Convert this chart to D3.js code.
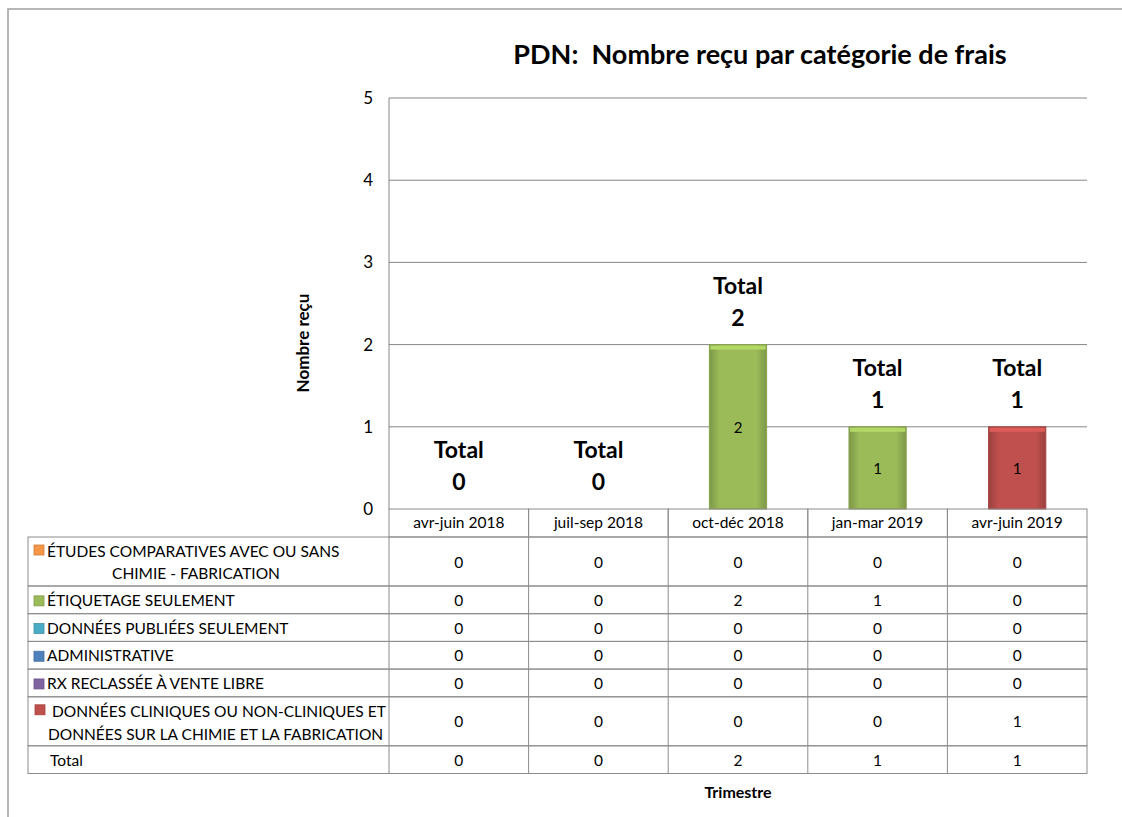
<!DOCTYPE html>
<html>
<head>
<meta charset="utf-8">
<script src="https://cdn.jsdelivr.net/npm/d3@7"></script>
<style>
  body { margin: 0; background: #fff; }
  svg { font-family: Lato, "Open Sans", sans-serif; }
</style>
</head>
<body>
<svg width="1122" height="817"></svg>
<script>
// data
const quarters = ["avr-juin 2018", "juil-sep 2018", "oct-déc 2018", "jan-mar 2019", "avr-juin 2019"];
const categories = [
    ["ÉTUDES COMPARATIVES AVEC OU SANS", "CHIMIE - FABRICATION"],
    ["ÉTIQUETAGE SEULEMENT"],
    ["DONNÉES PUBLIÉES SEULEMENT"],
    ["ADMINISTRATIVE"],
    ["RX RECLASSÉE À VENTE LIBRE"],
    ["DONNÉES CLINIQUES OU NON-CLINIQUES ET", "DONNÉES SUR LA CHIMIE ET LA FABRICATION"]
];
const colors = ["#F79646", "#9BBB59", "#4BACC6", "#4F81BD", "#8064A2", "#C0504D"];
const etudes = [0, 0, 0, 0, 0];
const etiquetage = [0, 0, 2, 1, 0];
const publiees = [0, 0, 0, 0, 0];
const administrative = [0, 0, 0, 0, 0];
const rxReclassee = [0, 0, 0, 0, 0];
const cliniques = [0, 0, 0, 0, 1];
const yTicks = [0, 1, 2, 3, 4, 5];

const series = [etudes, etiquetage, publiees, administrative, rxReclassee, cliniques];
const totals = quarters.map((q, i) => d3.sum(series, s => s[i]));

const svg = d3.select("svg");
const plot = { left: 389, right: 1087, top: 98, bottom: 509 };
const fs = 15.5; // table text size

// outer frame
svg.append("path")
    .attr("d", "M8,830 L8,9 L1130,9")
    .attr("fill", "none").attr("stroke", "#a0a0a0").attr("stroke-width", 1.5);

// gradients for the bars
const defs = svg.append("defs");
colors.forEach((c, i) => {
    const g = defs.append("linearGradient").attr("id", "grad" + i)
        .attr("x1", "0%").attr("x2", "100%").attr("y1", "0%").attr("y2", "0%");
    const dark = d3.color(c).darker(0.6);
    g.append("stop").attr("offset", "0%").attr("stop-color", dark);
    g.append("stop").attr("offset", "18%").attr("stop-color", c);
    g.append("stop").attr("offset", "82%").attr("stop-color", c);
    g.append("stop").attr("offset", "100%").attr("stop-color", dark);
});

const x = d3.scaleBand().domain(quarters).range([plot.left, plot.right]).paddingInner(0).paddingOuter(0);
const y = d3.scaleLinear().domain([0, 5]).range([plot.bottom, plot.top]);

// title
svg.append("text")
    .attr("x", 760).attr("y", 64)
    .attr("text-anchor", "middle")
    .attr("font-size", 27).attr("font-weight", "bold")
    .attr("xml:space", "preserve")
    .text("PDN:  Nombre reçu par catégorie de frais");

// gridlines
svg.append("g").selectAll("line")
    .data(yTicks.filter(d => d > 0))
    .join("line")
    .attr("x1", plot.left).attr("x2", plot.right)
    .attr("y1", d => y(d)).attr("y2", d => y(d))
    .attr("stroke", "#868686").attr("stroke-width", 1);

svg.append("line")
    .attr("x1", plot.left).attr("x2", plot.left)
    .attr("y1", plot.top).attr("y2", plot.bottom)
    .attr("stroke", "#868686");

// y tick labels
svg.append("g").selectAll("text")
    .data(yTicks)
    .join("text")
    .attr("x", 373).attr("y", d => y(d) + 6)
    .attr("text-anchor", "end")
    .attr("font-size", 17)
    .text(d => d);

svg.append("text")
    .attr("transform", "translate(309,343) rotate(-90)")
    .attr("text-anchor", "middle")
    .attr("font-size", 17).attr("font-weight", "bold")
    .text("Nombre reçu");

// stacked bars
const stackData = quarters.map((q, i) => {
    const o = { q };
    series.forEach((s, k) => o[k] = s[i]);
    return o;
});
const stacked = d3.stack().keys(series.map((s, k) => k))(stackData);
const barW = x.bandwidth() * 0.41;

stacked.forEach((layer, k) => {
    const grp = svg.append("g");
    const segs = layer.filter(d => d[1] > d[0]);
    grp.selectAll("rect")
        .data(segs)
        .join("rect")
        .attr("x", d => x(d.data.q) + x.bandwidth() / 2 - barW / 2)
        .attr("width", barW)
        .attr("y", d => y(d[1]))
        .attr("height", d => y(d[0]) - y(d[1]))
        .attr("fill", "url(#grad" + k + ")")
        .attr("stroke", d3.color(colors[k]).darker(0.4))
        .attr("stroke-width", 1);
    // top bevel
    grp.selectAll("rect.bevel")
        .data(segs)
        .join("rect")
        .attr("class", "bevel")
        .attr("x", d => x(d.data.q) + x.bandwidth() / 2 - barW / 2 + 1)
        .attr("width", barW - 2)
        .attr("y", d => y(d[1]) + 1)
        .attr("height", 4)
        .attr("fill", d3.color(colors[k]).brighter(0.4));
    grp.selectAll("text")
        .data(segs)
        .join("text")
        .attr("x", d => x(d.data.q) + x.bandwidth() / 2)
        .attr("y", d => (y(d[0]) + y(d[1])) / 2 + 6)
        .attr("text-anchor", "middle")
        .attr("font-size", 15)
        .text(d => d[1] - d[0]);
});

// total labels above bars
const totLab = svg.append("g").selectAll("g")
    .data(quarters)
    .join("g")
    .attr("transform", (q, i) => `translate(${x(q) + x.bandwidth() / 2},${y(totals[i])})`);
totLab.append("text")
    .attr("y", -51).attr("text-anchor", "middle")
    .attr("font-size", 23).attr("font-weight", "bold")
    .text("Total");
totLab.append("text")
    .attr("y", -19).attr("text-anchor", "middle")
    .attr("font-size", 23).attr("font-weight", "bold")
    .text((q, i) => totals[i]);

// data table
const tableLeft = 28;
const rowH = 27.7, rowH2 = 49;
const rows = categories.map((c, k) => ({ label: c, values: series[k], color: colors[k] }));
rows.push({ label: ["Total"], values: totals, color: null });

const table = svg.append("g");
const lineColor = "#8c8c8c";

// header row
table.selectAll("rect.head")
    .data(quarters)
    .join("rect")
    .attr("class", "head")
    .attr("x", d => x(d)).attr("y", plot.bottom)
    .attr("width", x.bandwidth()).attr("height", 28)
    .attr("fill", "none").attr("stroke", lineColor);
table.selectAll("text.head")
    .data(quarters)
    .join("text")
    .attr("class", "head")
    .attr("x", d => x(d) + x.bandwidth() / 2).attr("y", plot.bottom + 19)
    .attr("text-anchor", "middle").attr("font-size", fs)
    .text(d => d);

let yPos = plot.bottom + 28;
rows.forEach((r, k) => {
    const h = r.label.length > 1 ? rowH2 : rowH;
    const rg = table.append("g").attr("transform", `translate(0,${yPos})`);
    rg.append("rect")
        .attr("x", tableLeft).attr("width", plot.right - tableLeft)
        .attr("height", h)
        .attr("fill", "none").attr("stroke", lineColor);
    rg.selectAll("line")
        .data(quarters)
        .join("line")
        .attr("x1", d => x(d)).attr("x2", d => x(d))
        .attr("y1", 0).attr("y2", h)
        .attr("stroke", lineColor);
    rg.selectAll("text.val")
        .data(r.values)
        .join("text")
        .attr("class", "val")
        .attr("x", (v, i) => x(quarters[i]) + x.bandwidth() / 2)
        .attr("y", h / 2 + 6)
        .attr("text-anchor", "middle").attr("font-size", fs)
        .text(v => v);

    if (r.color) {
        const kx = k === 5 ? 35 : 34;
        const ky = r.label.length > 1 ? 8 : h / 2 - 4;
        rg.append("rect")
            .attr("x", kx).attr("y", ky).attr("width", 10).attr("height", 10)
            .attr("fill", r.color).attr("stroke", d3.color(r.color).darker(0.5)).attr("stroke-width", 0.8);
    }
    if (r.label.length > 1) {
        const first = k === 5 ? 52 : 47;
        rg.append("text").attr("x", first).attr("y", 20).attr("font-size", fs).text(r.label[0]);
        if (k === 0) {
            rg.append("text").attr("x", 196).attr("y", 42).attr("text-anchor", "middle")
                .attr("font-size", fs).text(r.label[1]);
        } else {
            rg.append("text").attr("x", 48).attr("y", 43).attr("font-size", fs).text(r.label[1]);
        }
    } else {
        rg.append("text")
            .attr("x", r.color ? 47 : 50).attr("y", h / 2 + 6)
            .attr("font-size", fs).text(r.label[0]);
    }
    yPos += h;
});

// x axis title
svg.append("text")
    .attr("x", (plot.left + plot.right) / 2).attr("y", yPos + 24)
    .attr("text-anchor", "middle")
    .attr("font-size", 16).attr("font-weight", "bold")
    .text("Trimestre");
</script>
</body>
</html>
